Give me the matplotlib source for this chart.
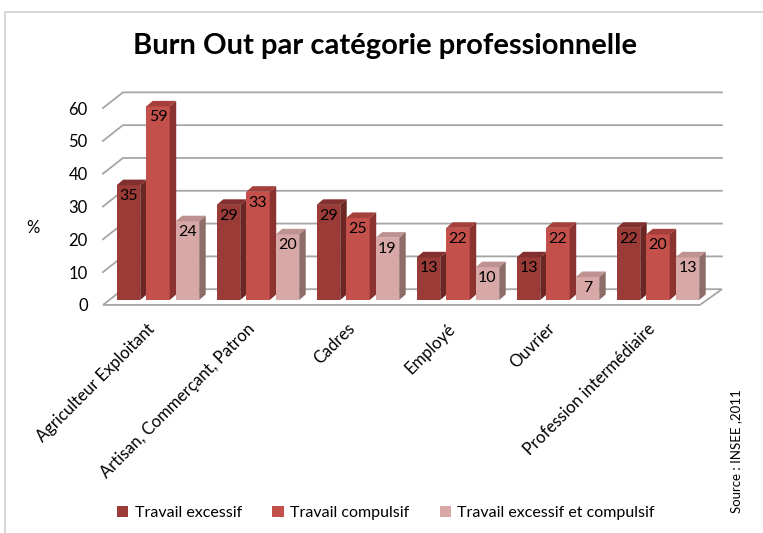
import numpy as np
import matplotlib
matplotlib.use('Agg')
import matplotlib.pyplot as plt
from matplotlib.patches import Polygon, Rectangle, Patch

plt.rcParams['font.family'] = ['Lato', 'DejaVu Sans']

categories = ['Agriculteur Exploitant', 'Artisan, Commerçant, Patron', 'Cadres',
              'Employé', 'Ouvrier', 'Profession intermédiaire']
series_names = ['Travail excessif', 'Travail compulsif', 'Travail excessif et compulsif']
excessif = [35, 29, 29, 13, 13, 22]
compulsif = [59, 33, 25, 22, 22, 20]
excessif_compulsif = [24, 20, 19, 10, 7, 13]
yticks = [0, 10, 20, 30, 40, 50, 60]

# front / top / side colours per series
colors = [('#9B3B37', '#82302D', '#6C2724'),
          ('#C4504C', '#A43F3B', '#8A3330'),
          ('#D8A8A6', '#BE9290', '#8E6C6A')]

fig = plt.figure(figsize=(7.63, 5.33), dpi=100)
ax = fig.add_axes([0.1297, 0.4248, 0.8257, 0.4124])
ax.set_xlim(-0.6, 5.7)
ax.set_ylim(-2, 65)
for s in ax.spines.values():
    s.set_visible(False)

# 3d-ish walls
front_off, back_off = -1.5, 3.3
xl_front, xl_back = -0.56, -0.36
xr_front, xr_back = 5.41, 5.63
grid_c = '#A6A6A6'
for v in yticks[1:]:
    ax.plot([xl_front, xl_back, xr_back], [v + front_off, v + back_off, v + back_off],
            color=grid_c, lw=1.3, zorder=1, solid_joinstyle='miter')
floor = Polygon([(xl_front, front_off), (xr_front, front_off), (xr_back, back_off),
                 (xl_back, back_off)], closed=True, facecolor='white', edgecolor=grid_c,
                lw=1.3, zorder=1)
ax.add_patch(floor)

x = np.arange(len(categories))
width = 0.235
offsets = [-0.295, 0.0, 0.295]
shift = -0.01
ddx, ddy = 0.065, 1.7
data = [excessif, compulsif, excessif_compulsif]
for k, vals in enumerate(data):
    front, top, side = colors[k]
    xs = x + offsets[k] + shift
    bars = ax.bar(xs, vals, width=width, color=front, zorder=3, linewidth=0)
    for b, v in zip(bars, vals):
        x0 = b.get_x()
        x1 = x0 + b.get_width()
        ax.add_patch(Polygon([(x0, v), (x1, v), (x1 + ddx, v + ddy), (x0 + ddx, v + ddy)],
                             closed=True, facecolor=top, lw=0, zorder=3))
        ax.add_patch(Polygon([(x1, 0), (x1 + ddx, ddy), (x1 + ddx, v + ddy), (x1, v)],
                             closed=True, facecolor=side, lw=0, zorder=3))
        ax.text(x0 + b.get_width() / 2, v - 1.2, str(v), ha='center', va='top',
                fontsize=11.5, color='black', zorder=4)

ax.set_yticks([v + front_off for v in yticks], [str(v) for v in yticks])
ax.tick_params(axis='y', length=0, labelsize=12, pad=8)
ax.set_xticks(x + shift - 0.11, categories)
ax.tick_params(axis='x', length=0, labelsize=12, pad=10)
for lab in ax.get_xticklabels():
    lab.set_rotation(45)
    lab.set_ha('right')
    lab.set_va('top')
    lab.set_rotation_mode('anchor')

fig.text(33 / 763, 1 - 228 / 533, '%', fontsize=12, ha='center', va='center')
fig.text(385 / 763, 1 - 46 / 533, 'Burn Out par catégorie professionnelle',
         fontsize=21, fontweight='bold', ha='center', va='center')
fig.text(736 / 763, 1 - 451 / 533, 'Source : INSEE ,2011', rotation=90,
         fontsize=9.5, ha='center', va='center')

handles = [Patch(facecolor=c[0], edgecolor='none') for c in colors]
fig.legend(handles, series_names, loc='center', bbox_to_anchor=(386 / 763, 1 - 513 / 533),
           ncol=3, frameon=False, fontsize=11.5, handlelength=0.7, handleheight=0.7,
           handletextpad=0.4, columnspacing=1.9)

fig.patches.append(Rectangle((5 / 763, -0.1), 1.2, 1 - 12 / 533 + 0.1,
                             transform=fig.transFigure, fill=False,
                             edgecolor='#D0D0D0', lw=1.2))

fig.savefig('out.png', dpi=100)
